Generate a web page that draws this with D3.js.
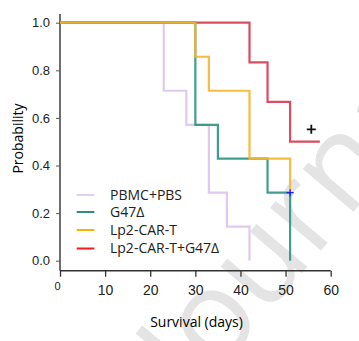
<!DOCTYPE html>
<html>
<head>
<meta charset="utf-8">
<script src="https://cdn.jsdelivr.net/npm/d3@7"></script>
<style>
    body { margin: 0; background: #fff; }
    svg { display: block; font-family: "Open Sans", "Noto Sans", sans-serif; }
</style>
</head>
<body>
<div id="chart"></div>
<script>
// Kaplan-Meier steps
const seriesNames = ["PBMC+PBS", "G47Δ", "Lp2-CAR-T", "Lp2-CAR-T+G47Δ"];
const pbmcDays = [0, 23, 28, 33, 37, 42];
const pbmcProb = [1.0, 0.714, 0.571, 0.286, 0.143, 0.0];
const g47Days = [0, 30, 35, 46, 51];
const g47Prob = [1.0, 0.571, 0.429, 0.286, 0.0];
const carDays = [0, 30, 33, 42, 51];
const carProb = [1.0, 0.857, 0.714, 0.429, 0.286];
const comboDays = [0, 42, 46, 51, 57.6];
const comboProb = [1.0, 0.833, 0.667, 0.5, 0.5];

const xTicks = [0, 10, 20, 30, 40, 50, 60];
const yTicks = [0, 0.2, 0.4, 0.6, 0.8, 1.0];

// censor marks
const censorBlue = {day: 51, p: 0.286};
const plusMark = {day: 55.7, p: 0.552};

const W = 359, H = 341;
const svg = d3.select("#chart").append("svg")
    .attr("width", W)
    .attr("height", H);

// watermark
svg.append("text")
    .attr("transform", "translate(328,242) rotate(-50)")
    .attr("text-anchor", "middle")
    .attr("font-size", 124)
    .attr("fill", "#e4e4e4")
    .text("Journal");

const x = d3.scaleLinear().domain([0, 60]).range([60, 330.7]);
const y = d3.scaleLinear().domain([0, 1]).range([260.7, 22.7]);

// y axis
const yAxis = svg.append("g")
    .attr("transform", "translate(60,0)")
    .call(d3.axisLeft(y).tickValues(yTicks).tickFormat(d3.format(".1f")).tickSize(4).tickPadding(6));
yAxis.select(".domain").attr("d", `M0,14V270.7`).attr("stroke", "#6e6e6e").attr("stroke-width", 2);
yAxis.selectAll(".tick line").attr("stroke", "#555");
yAxis.selectAll(".tick text").attr("font-size", 13).attr("fill", "#222");

// x axis
const xAxis = svg.append("g")
    .attr("transform", "translate(0,270.7)")
    .call(d3.axisBottom(x).tickValues(xTicks).tickSize(6).tickPadding(8));
xAxis.select(".domain").attr("d", "M60,0H330.7").attr("stroke", "#333").attr("stroke-width", 1.5);
xAxis.selectAll(".tick line").attr("stroke", "#333").attr("stroke-width", 1.3);
xAxis.selectAll(".tick text").attr("font-size", 14).attr("fill", "#222");
xAxis.selectAll(".tick text").filter(d => d === 0)
    .attr("font-size", 11).attr("dx", -3).attr("dy", "0.5em");

svg.append("text")
    .attr("x", 196.5)
    .attr("y", 327)
    .attr("text-anchor", "middle")
    .attr("font-size", 14)
    .attr("font-weight", 500)
    .attr("fill", "#000")
    .text("Survival (days)");

svg.append("text")
    .attr("transform", "translate(23,138.5) rotate(-90)")
    .attr("text-anchor", "middle")
    .attr("font-size", 14)
    .attr("font-weight", 500)
    .attr("fill", "#000")
    .text("Probability");

// curves
const series = [
    {days: pbmcDays, prob: pbmcProb, color: "#dcc3f0"},
    {days: comboDays, prob: comboProb, color: "#d6384f"},
    {days: g47Days, prob: g47Prob, color: "#2a9582"},
    {days: carDays, prob: carProb, color: "#f7b52c"}
];

const line = d3.line()
    .x(d => x(d[0]))
    .y(d => y(d[1]))
    .curve(d3.curveStepAfter);

series.forEach(s => {
    let pts = s.days.map((d, i) => [d, s.prob[i]]);
    svg.append("path")
        .attr("d", line(pts))
        .attr("fill", "none")
        .attr("stroke", s.color)
        .attr("stroke-width", 2.2)
        .attr("stroke-opacity", 0.9);
});

// blue censor tick on G47Δ/Lp2 at 51 days
svg.append("path")
    .attr("d", `M${x(censorBlue.day) - 3.5},${y(censorBlue.p)}h7M${x(censorBlue.day)},${y(censorBlue.p) - 3.5}v7`)
    .attr("stroke", "#1a1aff")
    .attr("stroke-width", 1.2);

svg.append("path")
    .attr("d", `M${x(plusMark.day) - 4.5},${y(plusMark.p)}h9M${x(plusMark.day)},${y(plusMark.p) - 4.5}v9`)
    .attr("stroke", "#111")
    .attr("stroke-width", 1.8);

// legend
const legendColors = ["#e3cdf3", "#2e8f7d", "#f5b400", "#ff1a1a"];
const legendY = [195, 212, 230, 248.5];
const legend = svg.append("g");
seriesNames.forEach((name, i) => {
    legend.append("line")
        .attr("x1", 76.7).attr("x2", 94.3)
        .attr("y1", legendY[i]).attr("y2", legendY[i])
        .attr("stroke", legendColors[i])
        .attr("stroke-width", 2);
    legend.append("text")
        .attr("x", 110)
        .attr("y", legendY[i])
        .attr("dy", "0.35em")
        .attr("font-size", 14)
        .attr("fill", "#222")
        .text(name);
});
</script>
</body>
</html>
